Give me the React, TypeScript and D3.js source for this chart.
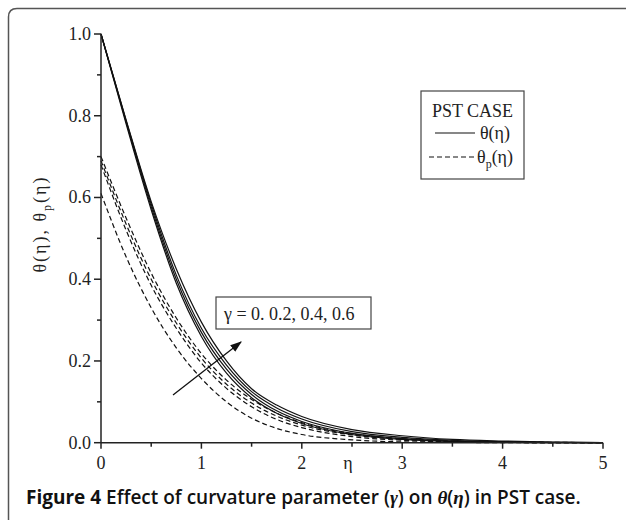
import React from 'react';
import * as d3 from 'd3';

// eta sampling points
const etaGrid = [0, 0.25, 0.5, 0.75, 1, 1.25, 1.5, 1.75, 2, 2.5, 3, 3.5, 4, 4.5, 5];

// theta(eta), solid, gamma = 0, 0.2, 0.4, 0.6
const thetaG0 = [1, 0.78, 0.57, 0.39, 0.26, 0.17, 0.11, 0.072, 0.047, 0.02, 0.008, 0.003, 0.001, 0, 0];
const thetaG2 = [1, 0.785, 0.577, 0.4, 0.27, 0.18, 0.118, 0.078, 0.052, 0.023, 0.01, 0.004, 0.0015, 0.0005, 0];
const thetaG4 = [1, 0.788, 0.584, 0.41, 0.28, 0.19, 0.125, 0.085, 0.058, 0.027, 0.013, 0.006, 0.0025, 0.001, 0];
const thetaG6 = [1, 0.79, 0.59, 0.425, 0.295, 0.2, 0.132, 0.092, 0.064, 0.032, 0.017, 0.008, 0.004, 0.0015, 0];

// theta_p(eta), dashed
const thetaPG0 = [0.61, 0.455, 0.33, 0.232, 0.157, 0.1, 0.06, 0.035, 0.02, 0.007, 0.002, 0.001, 0, 0, 0];
const thetaPG2 = [0.68, 0.52, 0.385, 0.28, 0.195, 0.133, 0.088, 0.057, 0.037, 0.015, 0.006, 0.002, 0.001, 0, 0];
const thetaPG4 = [0.69, 0.535, 0.4, 0.293, 0.207, 0.143, 0.097, 0.065, 0.043, 0.019, 0.008, 0.003, 0.001, 0, 0];
const thetaPG6 = [0.7, 0.55, 0.415, 0.305, 0.218, 0.153, 0.106, 0.072, 0.049, 0.022, 0.01, 0.004, 0.002, 0.001, 0];

const xTicks = [0, 1, 2, 3, 4, 5];
const yTicks = [0, 0.2, 0.4, 0.6, 0.8, 1.0];
const gammaLabel = 'γ = 0. 0.2, 0.4, 0.6';

const serif = '"Liberation Serif", "DejaVu Serif", serif';
const sans = '"Open Sans", "Noto Sans", sans-serif';

const App = () => {
  const W = 626, H = 520;
  const x = d3.scaleLinear().domain([0, 5]).range([101, 603]);
  const y = d3.scaleLinear().domain([0, 1]).range([442.7, 34]);

  const line = d3.line<number>()
    .x((_, i) => x(etaGrid[i]))
    .y(d => y(d))
    .curve(d3.curveMonotoneX);

  const solid = [thetaG0, thetaG2, thetaG4, thetaG6];
  const dashed = [thetaPG0, thetaPG2, thetaPG4, thetaPG6];

  const xMinor = d3.range(0.5, 5, 1);
  const yMinor = d3.range(0.1, 1, 0.2);
  const axisColor = '#222';

  return (
    <svg width={W} height={H} style={{ position: 'absolute', left: 0, top: 0 }}>
      <defs>
        <marker id="arrowHead" viewBox="0 0 10 10" refX="9" refY="5" markerWidth="9" markerHeight="9" orient="auto">
          <path d="M0,1.5 L10,5 L0,8.5 Z" fill="#111" />
        </marker>
      </defs>
      <rect x={0} y={0} width={W} height={H} fill="#fff" />
      {/* outer frame */}
      <path d={`M8.5,${H + 10} L8.5,17 Q8.5,8.5 17,8.5 L${W + 10},8.5`} fill="none" stroke="#555" strokeWidth={1.5} />

      {/* curves */}
      <g fill="none" stroke="#111" strokeWidth={1.2}>
        {solid.map((s, i) => <path key={'s' + i} d={line(s)} />)}
        {dashed.map((s, i) => <path key={'d' + i} d={line(s)} strokeDasharray="5,3" />)}
      </g>

      {/* axes */}
      <g stroke={axisColor} strokeWidth={1.5}>
        <line x1={x(0)} x2={x(5)} y1={y(0)} y2={y(0)} />
        <line x1={x(0)} x2={x(0)} y1={y(0)} y2={y(1)} />
        {xTicks.map(t => <line key={'xt' + t} x1={x(t)} x2={x(t)} y1={y(0)} y2={y(0) + 6} />)}
        {xMinor.map(t => <line key={'xm' + t} x1={x(t)} x2={x(t)} y1={y(0)} y2={y(0) + 4} />)}
        {yTicks.map(t => <line key={'yt' + t} x1={x(0) - 7} x2={x(0)} y1={y(t)} y2={y(t)} />)}
        {yMinor.map(t => <line key={'ym' + t} x1={x(0) - 4} x2={x(0)} y1={y(t)} y2={y(t)} />)}
      </g>
      <g fontFamily={serif} fontSize={18} fill="#222">
        {xTicks.map(t => (
          <text key={'xl' + t} x={x(t)} y={y(0) + 26} textAnchor="middle">{t}</text>
        ))}
        {yTicks.map(t => (
          <text key={'yl' + t} x={x(0) - 10} y={y(t) + 6} textAnchor="end">{t.toFixed(1)}</text>
        ))}
        <text x={348} y={y(0) + 26} textAnchor="middle">η</text>
        <text transform="translate(46,224) rotate(-90)" textAnchor="middle" letterSpacing={2}>
          θ(η), θ<tspan fontSize={12} dy={5}>p</tspan><tspan dy={-5}>(η)</tspan>
        </text>
      </g>

      {/* legend */}
      <rect x={421} y={91} width={103} height={88} fill="#fff" stroke="#444" strokeWidth={1.2} />
      <g fontFamily={serif} fontSize={18} fill="#222">
        <text x={472.5} y={117} textAnchor="middle">PST CASE</text>
        <line x1={435} x2={475} y1={133} y2={133} stroke="#111" strokeWidth={1.2} />
        <text x={480} y={139}>θ(η)</text>
        <line x1={429} x2={477} y1={157} y2={157} stroke="#111" strokeWidth={1.2} strokeDasharray="5,3" />
        <text x={477} y={163}>θ<tspan fontSize={12} dy={5}>p</tspan><tspan dy={-5}>(η)</tspan></text>
      </g>

      {/* gamma annotation */}
      <rect x={216} y={297} width={155} height={32} fill="#fff" stroke="#444" strokeWidth={1.2} />
      <text x={224} y={320} fontFamily={serif} fontSize={18} fill="#222">{gammaLabel}</text>
      <line x1={173} y1={395} x2={241} y2={342} stroke="#111" strokeWidth={1.3} markerEnd="url(#arrowHead)" />

      {/* caption */}
      <text x={26} y={504} fontFamily={sans} fontSize={19} fill="#111" fontWeight={600}>
        <tspan fontWeight={700}>Figure 4</tspan> Effect of curvature parameter (<tspan fontFamily={serif} fontStyle="italic" fontWeight={700}>γ</tspan>) on <tspan fontFamily={serif} fontStyle="italic" fontWeight={700}>θ</tspan>(<tspan fontFamily={serif} fontStyle="italic" fontWeight={700}>η</tspan>) in PST case.
      </text>
    </svg>
  );
};

export default App;
